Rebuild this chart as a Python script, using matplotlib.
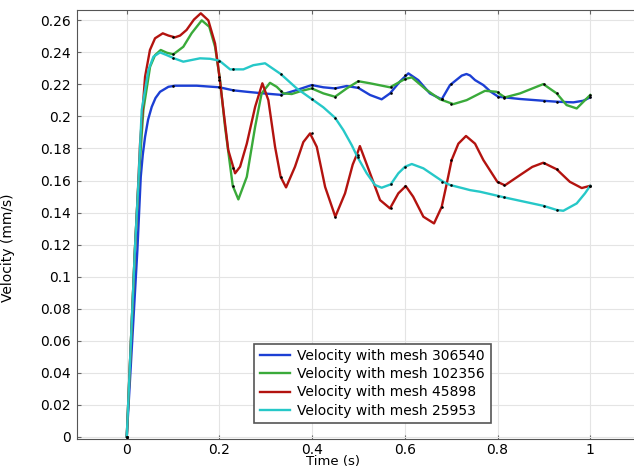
import numpy as np
import matplotlib
matplotlib.use("Agg")
import matplotlib.pyplot as plt

# values
t_blue = [0, 0.0229, 0.0302, 0.0345, 0.0395, 0.046, 0.0539, 0.062, 0.0718, 0.0898, 0.104, 0.151, 0.2, 0.23,
          0.259, 0.2947, 0.3322, 0.3668, 0.399, 0.4242, 0.4494, 0.4746, 0.4997, 0.525, 0.550, 0.568, 0.59,
          0.6076, 0.629, 0.654, 0.6796, 0.6975, 0.7228, 0.733, 0.7407, 0.7515, 0.7694, 0.785, 0.8017, 0.8486,
          0.8988, 0.9277, 0.9636, 0.985, 1.0]
v_blue = [0, 0.1166, 0.1623, 0.176, 0.1873, 0.198, 0.206, 0.2115, 0.2154, 0.2185, 0.2192, 0.2192, 0.2182, 0.2163,
          0.2154, 0.2144, 0.2135, 0.2165, 0.2196, 0.2182, 0.2175, 0.219, 0.2178, 0.2134, 0.2107, 0.2144, 0.222,
          0.2269, 0.2227, 0.2144, 0.2107, 0.2196, 0.2255, 0.2265, 0.2256, 0.2227, 0.2196, 0.2155, 0.2123, 0.2109,
          0.2098, 0.2092, 0.2088, 0.2098, 0.2119]

t_green = [0, 0.0175, 0.0245, 0.0358, 0.0503, 0.061, 0.0733, 0.0863, 0.1005, 0.122, 0.140, 0.1618, 0.178, 0.1905,
           0.2013, 0.212, 0.2287, 0.2408, 0.259, 0.277, 0.291, 0.309, 0.3236, 0.338, 0.356, 0.3776, 0.399, 0.4242,
           0.4494, 0.4746, 0.4997, 0.525, 0.568, 0.6004, 0.615, 0.647, 0.676, 0.7047, 0.7335, 0.762, 0.773, 0.798,
           0.816, 0.8486, 0.8988, 0.9277, 0.949, 0.9709, 1.0]
v_green = [0, 0.1165, 0.155, 0.204, 0.231, 0.2383, 0.2415, 0.2398, 0.2388, 0.2435, 0.252, 0.260, 0.256, 0.2435,
           0.2227, 0.1936, 0.1567, 0.1482, 0.1623, 0.1936, 0.2144, 0.221, 0.2185, 0.2144, 0.214, 0.216, 0.2175, 0.2144,
           0.2123, 0.2175, 0.222, 0.2207, 0.2182, 0.2234, 0.2244, 0.2165, 0.2107, 0.2077, 0.2102, 0.2144, 0.216, 0.2154,
           0.2119, 0.2144, 0.2202, 0.2144, 0.2071, 0.205, 0.2134]

t_red = [0, 0.0175, 0.0235, 0.0287, 0.0395, 0.050, 0.061, 0.0777, 0.09, 0.104, 0.115, 0.129, 0.145, 0.1597, 0.176,
         0.1905, 0.2, 0.2085, 0.219, 0.2337, 0.2445, 0.259, 0.277, 0.2926, 0.3055, 0.32, 0.332, 0.3437, 0.363, 0.381,
         0.3955, 0.41, 0.428, 0.450, 0.471, 0.4876, 0.4976, 0.503, 0.525, 0.5465, 0.568, 0.586, 0.602, 0.618, 0.640,
         0.663, 0.6796, 0.6904, 0.701, 0.7155, 0.732, 0.7515, 0.7694, 0.7996, 0.816, 0.8486, 0.875, 0.8988, 0.9277,
         0.956, 0.9817, 1.0]
v_red = [0, 0.1165, 0.150, 0.183, 0.2248, 0.2415, 0.2488, 0.2519, 0.2505, 0.2494, 0.2505, 0.254, 0.2605, 0.2644, 0.260,
         0.2456, 0.2248, 0.204, 0.179, 0.1645, 0.1686, 0.183, 0.206, 0.2207, 0.2102, 0.181, 0.1623, 0.1557, 0.1686, 0.184,
         0.1894, 0.181, 0.156, 0.1374, 0.152, 0.170, 0.177, 0.1815, 0.1645, 0.1478, 0.1426, 0.152, 0.1565, 0.1499, 0.1374,
         0.1332, 0.1436, 0.158, 0.1728, 0.183, 0.1878, 0.183, 0.1728, 0.1592, 0.157, 0.1634, 0.1685, 0.1711, 0.167,
         0.1592, 0.1553, 0.1567]

t_cyan = [0, 0.0175, 0.0245, 0.0323, 0.0467, 0.0575, 0.0718, 0.0863, 0.102, 0.122, 0.158, 0.18, 0.2, 0.2229, 0.2516,
          0.273, 0.2984, 0.3322, 0.3668, 0.399, 0.4242, 0.4494, 0.4673, 0.4854, 0.4976, 0.5178, 0.5357, 0.550, 0.5696,
          0.586, 0.6004, 0.615, 0.640, 0.683, 0.6975, 0.7262, 0.7407, 0.762, 0.7996, 0.814, 0.8988, 0.9277, 0.942,
          0.9709, 0.9888, 1.0]
v_cyan = [0, 0.1165, 0.155, 0.204, 0.229, 0.2373, 0.240, 0.2383, 0.2363, 0.2342, 0.2363, 0.236, 0.2348, 0.2294, 0.2294,
          0.232, 0.2332, 0.2265, 0.2175, 0.2109, 0.2057, 0.1992, 0.1915, 0.1821, 0.1748, 0.1645, 0.1572, 0.1555, 0.1576,
          0.1645, 0.1686, 0.1703, 0.1676, 0.1592, 0.1572, 0.1551, 0.154, 0.153, 0.1505, 0.1495, 0.1442, 0.1416, 0.1411,
          0.1457, 0.152, 0.1567]

# solver output points (black dots)
t_mark = [0, 0.1, 0.2, 0.229, 0.333, 0.4, 0.45, 0.5, 0.57, 0.6, 0.68, 0.7, 0.8, 0.815, 0.9, 0.928, 1.0]
m_blue = [0, 0.2192, 0.2182, 0.2163, 0.2135, 0.2196, 0.2175, 0.2182, 0.2144, 0.2260, 0.2107, 0.2200, 0.2123, 0.2115,
          0.2098, 0.2092, 0.2119]
m_green = [0, 0.2388, 0.2227, 0.1567, 0.2160, 0.2175, 0.2123, 0.2223, 0.2182, 0.2234, 0.2107, 0.2077, 0.2154, 0.2119,
           0.2202, 0.2144, 0.2134]
m_red = [0, 0.2494, 0.2248, 0.1680, 0.1623, 0.1894, 0.1374, 0.1760, 0.1426, 0.1565, 0.1436, 0.1728, 0.1592, 0.1570,
         0.1711, 0.1670, 0.1567]
m_cyan = [0, 0.2363, 0.2348, 0.2294, 0.2265, 0.2109, 0.1992, 0.1748, 0.1576, 0.1686, 0.1592, 0.1572, 0.1505, 0.1495,
          0.1442, 0.1416, 0.1567]

labels = ["Velocity with mesh 306540", "Velocity with mesh 102356",
          "Velocity with mesh 45898", "Velocity with mesh 25953"]
colors = ["#1c3fd4", "#3aaa3a", "#b3130f", "#26c8c8"]

fig = plt.figure(figsize=(6.34, 4.67), dpi=100)
ax = fig.add_axes([0.121, 0.06, 0.879, 0.918])

series = [(t_blue, v_blue, m_blue), (t_green, v_green, m_green),
          (t_red, v_red, m_red), (t_cyan, v_cyan, m_cyan)]
for (t, v, m), lab, col in zip(series, labels, colors):
    ax.plot(t, v, color=col, lw=1.7, label=lab, zorder=3)
    ax.plot(t_mark, m, ls="none", marker="o", ms=1.9, mew=0, color="black", zorder=4)

ax.set_xlim(-0.108, 1.0945)
ax.set_ylim(-0.0014, 0.2663)
ax.set_xticks([0, 0.2, 0.4, 0.6, 0.8, 1])
ax.set_xticklabels(["0", "0.2", "0.4", "0.6", "0.8", "1"])
yt = np.arange(0, 0.261, 0.02)
ax.set_yticks(yt)
ax.set_yticklabels(["%g" % round(y, 2) for y in yt])
ax.grid(True, color="#e4e4e4", lw=0.8)
ax.set_axisbelow(True)
ax.tick_params(direction="in", length=3, color="#666666", labelsize=10, top=True, pad=4)
ax.tick_params(axis="x", pad=3)
for s in ["left", "bottom", "top"]:
    ax.spines[s].set_color("#555555")
ax.spines["right"].set_visible(False)

ax.set_xlabel("Time (s)", fontsize=9.5)
ax.xaxis.set_label_coords(0.46, -0.0385)
ax.set_ylabel("Velocity (mm/s)", fontsize=10)
ax.yaxis.set_label_coords(-0.11, 0.445)

leg = ax.legend(loc="lower left", bbox_to_anchor=(0.39, 0.079), bbox_transform=fig.transFigure,
                fontsize=10, fancybox=False, framealpha=1, edgecolor="#555555",
                handlelength=2.2, borderpad=0.4, labelspacing=0.3, handletextpad=0.5)
leg.get_frame().set_linewidth(1.2)

fig.savefig("out.png", dpi=100)
